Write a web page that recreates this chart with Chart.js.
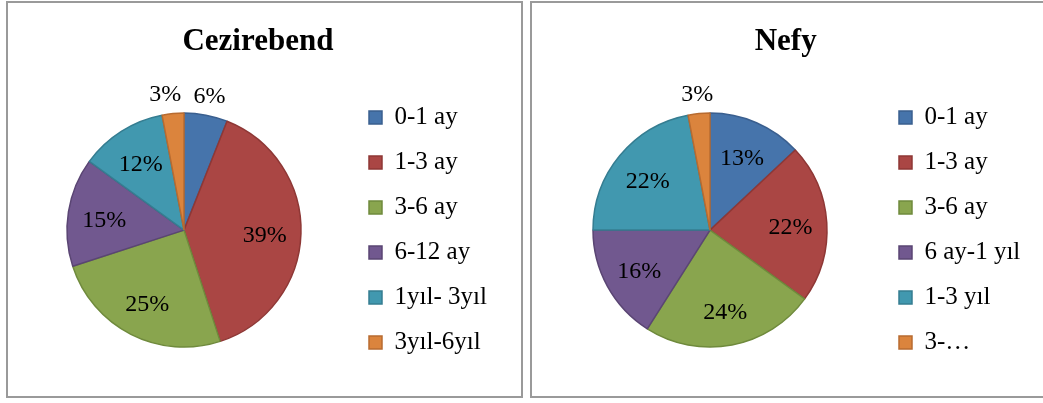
<!DOCTYPE html>
<html>
<head>
<meta charset="utf-8">
<script src="https://cdn.jsdelivr.net/npm/chart.js@4/dist/chart.umd.min.js"></script>
<style>
  body { margin: 0; background: #fff; overflow: hidden; width: 1043px; height: 403px; }
  .box { position: absolute; top: 1px; height: 397px; border: 2px solid #9a9a9a; box-sizing: border-box; background: #fff; }
  #boxA { left: 6px; width: 517px; }
  #boxB { left: 530px; width: 520px; }
  canvas { display: block; }
</style>
</head>
<body>
<div class="box" id="boxA"><canvas id="chartA" width="513" height="393"></canvas></div>
<div class="box" id="boxB"><canvas id="chartB" width="516" height="393"></canvas></div>
<script>
// data (percent)
var cezirebendLabels = ["0-1 ay", "1-3 ay", "3-6 ay", "6-12 ay", "1yıl- 3yıl", "3yıl-6yıl"];
var cezirebendValues = [6, 39, 25, 15, 12, 3];
var nefyLabels = ["0-1 ay", "1-3 ay", "3-6 ay", "6 ay-1 yıl", "1-3 yıl", "3-…"];
var nefyValues = [13, 22, 24, 16, 22, 3];

var fillColors = ["#4674ab", "#aa4644", "#89a54e", "#71588f", "#4198af", "#db843d"];
var edgeColors = ["#3a5f8f", "#8e3735", "#6f8a3c", "#5a4573", "#357d91", "#b86b30"];

var serif = '"Liberation Serif", "Times New Roman", serif';
var legendFont = 25, legendPad = 20, legendBox = 13, pctFont = 24;

// percent labels inside the slices (small ones outside)
var pctLabels = {
  id: "pctLabels",
  afterDatasetsDraw: function (chart, args, opts) {
    var ctx = chart.ctx;
    var values = chart.data.datasets[0].data;
    ctx.save();
    ctx.font = pctFont + "px " + serif;
    ctx.fillStyle = "#000";
    ctx.textAlign = "center";
    ctx.textBaseline = "middle";
    chart.getDatasetMeta(0).data.forEach(function (arc, i) {
      var p = arc.getProps(["x", "y", "startAngle", "endAngle", "outerRadius"], true);
      var mid = (p.startAngle + p.endAngle) / 2;
      var small = values[i] < opts.outsideBelow;
      var f = small ? 1.16 : 0.69;
      var x = p.x + Math.cos(mid) * p.outerRadius * f + (opts.nudge[i] || 0);
      var y = p.y + Math.sin(mid) * p.outerRadius * f + (small ? 0 : 3);
      ctx.fillText(values[i] + "%", x, y);
    });
    ctx.restore();
  }
};

function padRight(labels, canvasW, legendLeft) {
  var c = document.createElement("canvas").getContext("2d");
  c.font = legendFont + "px " + serif;
  var w = 0;
  labels.forEach(function (t) { w = Math.max(w, c.measureText(t).width); });
  var legendW = legendPad + legendBox + legendFont / 2 + w + 10;
  return canvasW - legendLeft - legendW;
}

function makePie(id, title, labels, values, centerX, legendLeft, labelOpts) {
  var canvas = document.getElementById(id);
  return new Chart(canvas, {
    type: "pie",
    data: {
      labels: labels,
      datasets: [{
        data: values,
        backgroundColor: fillColors,
        borderColor: edgeColors,
        borderWidth: 1.5,
        hoverOffset: 0
      }]
    },
    options: {
      responsive: false,
      animation: false,
      devicePixelRatio: 1,
      radius: 117,
      layout: {
        padding: {
          left: 2 * centerX - legendLeft,
          right: padRight(labels, canvas.width, legendLeft),
          top: 0,
          bottom: 11
        }
      },
      plugins: {
        title: {
          display: true,
          text: title,
          color: "#000",
          font: { family: serif, size: 31, weight: "bold" },
          padding: { top: 20, bottom: 15 }
        },
        legend: {
          position: "right",
          fullSize: false,
          labels: {
            color: "#000",
            font: { family: serif, size: legendFont },
            boxWidth: legendBox,
            boxHeight: legendBox,
            padding: legendPad
          }
        },
        tooltip: { enabled: false },
        pctLabels: labelOpts
      }
    },
    plugins: [pctLabels]
  });
}

makePie("chartA", "Cezirebend", cezirebendLabels, cezirebendValues, 176, 341,
  { outsideBelow: 7, nudge: [0, 0, 0, 0, 0, -6] });
makePie("chartB", "Nefy", nefyLabels, nefyValues, 178, 347,
  { outsideBelow: 5, nudge: [] });
</script>
</body>
</html>
